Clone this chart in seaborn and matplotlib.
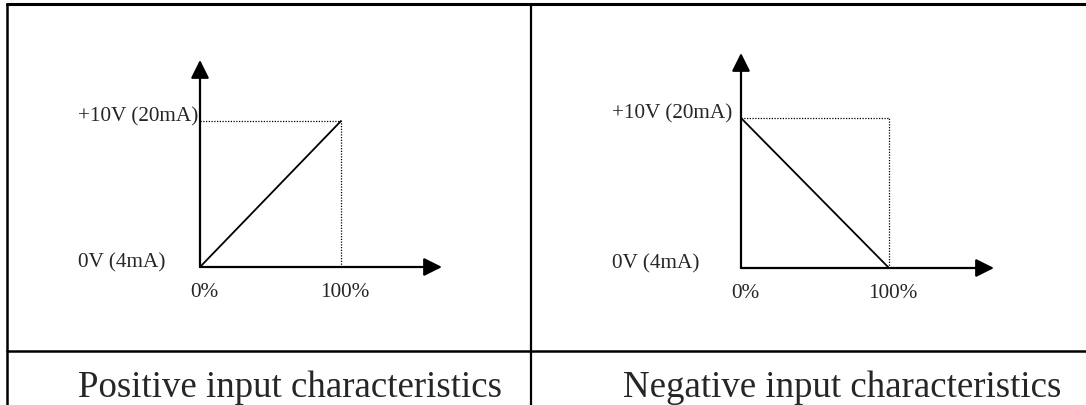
import matplotlib
matplotlib.use("Agg")
import matplotlib.pyplot as plt
import seaborn as sns

# Data: input percentage vs output level (V)
pct = [0, 100]
positive_volts = [0, 10]
negative_volts = [10, 0]
y_labels = ["0V (4mA)", "+10V (20mA)"]
x_labels = ["0%", "100%"]
captions = ["Positive input characteristics", "Negative input characteristics"]

W, H = 1086, 405
sns.set_style("white")
plt.rcParams["font.family"] = ["Liberation Serif", "DejaVu Serif"]

fig = plt.figure(figsize=(W / 100, H / 100), dpi=100)

# background axes in pixel units for the table rules
bg = fig.add_axes([0, 0, 1, 1])
bg.set_xlim(0, W)
bg.set_ylim(H, 0)
bg.axis("off")
bg.plot([7, W], [4, 4], color="black", lw=2.2)
bg.plot([7, W], [351, 351], color="black", lw=1.8)
bg.plot([7, 7], [4, H], color="black", lw=1.8)
bg.plot([531, 531], [4, H], color="black", lw=1.6)

bg.text(78, 397, captions[0], fontsize=26.6, va="baseline", ha="left")
bg.text(623, 397, captions[1], fontsize=26.6, va="baseline", ha="left")


def panel(ox, oy, px100, py10, tipx, tipy, volts, label_x):
    # place an axes so that 0..100 % and 0..10 V land on the given pixels
    ax = fig.add_axes([ox / W, (H - oy) / H, (tipx - ox) / W, (oy - tipy) / H])
    xmax = 100 * (tipx - ox) / (px100 - ox)
    ymax = 10 * (oy - tipy) / (oy - py10)
    ax.set_xlim(0, xmax)
    ax.set_ylim(0, ymax)
    ax.axis("off")

    sns.lineplot(x=pct, y=volts, ax=ax, color="black", lw=1.3, sort=False)

    # dotted guides to the full-scale point
    ax.plot([0, pct[1]], [max(volts), max(volts)], color="black", lw=0.9,
            linestyle=(0, (1, 1.2)))
    ax.plot([pct[1], pct[1]], [0, max(volts)], color="black", lw=0.9,
            linestyle=(0, (1, 1.2)))

    arrow = dict(arrowstyle="-|>,head_length=1.1,head_width=0.55",
                 color="black", lw=1.6, shrinkA=0, shrinkB=0, mutation_scale=10)
    ax.annotate("", xy=(xmax, 0), xytext=(0, 0), arrowprops=arrow,
                annotation_clip=False)
    ax.annotate("", xy=(0, ymax), xytext=(0, 0), arrowprops=arrow,
                annotation_clip=False)

    for v, lab in zip([0, 10], y_labels):
        ax.annotate(lab, xy=(0, v), xytext=(label_x - ox, 0),
                    textcoords="offset pixels", ha="left", va="baseline",
                    fontsize=15.3, annotation_clip=False)
    for p, lab in zip(pct, x_labels):
        ax.annotate(lab, xy=(p, 0), xytext=(4, -30),
                    textcoords="offset pixels", ha="center", va="baseline",
                    fontsize=15.3, annotation_clip=False)
    return ax


panel(200, 267, 341, 121, 442, 60, positive_volts, 78)
panel(741, 268, 889, 118, 994, 53, negative_volts, 612)

fig.savefig("out.png", dpi=100)
